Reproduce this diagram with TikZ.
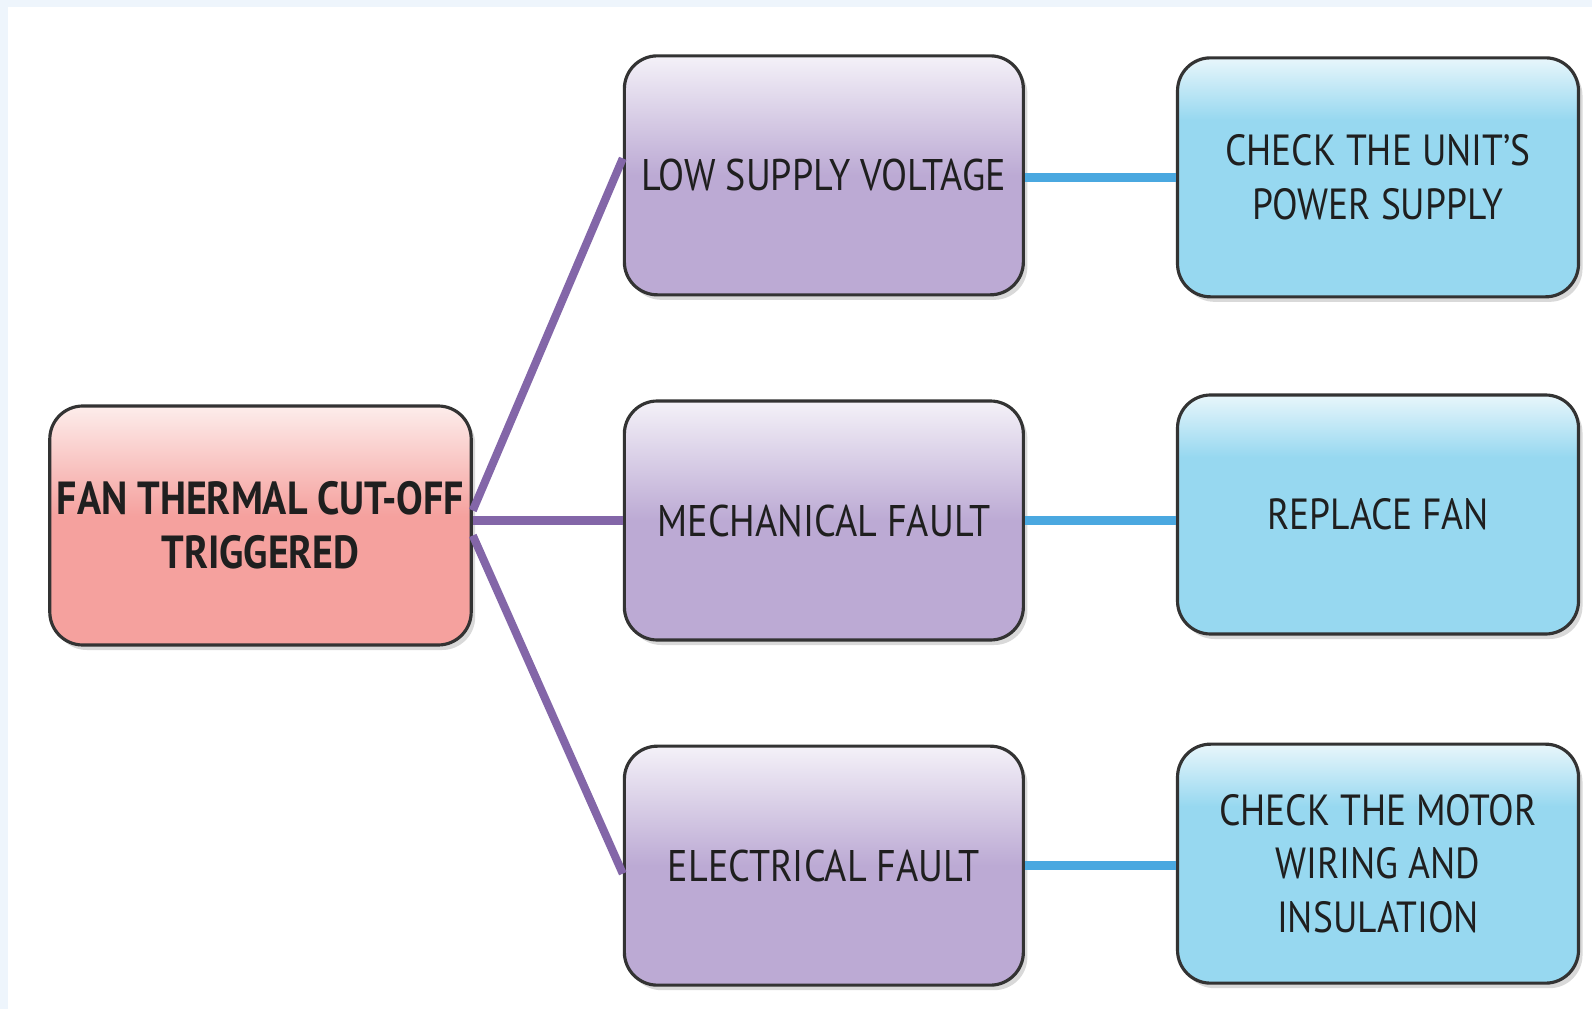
\documentclass[tikz,border=0pt]{standalone}
\usepackage{fontspec}
\setsansfont{PT Sans}[FakeStretch=0.86]
\usepackage{tikz}
\usetikzlibrary{positioning, calc, shadows}

\definecolor{rootlo}{HTML}{F5A19E}
\definecolor{roothi}{HTML}{FDEDEB}
\definecolor{causelo}{HTML}{BCAAD4}
\definecolor{causehi}{HTML}{F4F1F8}
\definecolor{fixlo}{HTML}{97D8F0}
\definecolor{fixhi}{HTML}{E8F6FB}
\definecolor{causeline}{HTML}{8366A8}
\definecolor{fixline}{HTML}{4AA8E0}
\definecolor{bgband}{HTML}{EEF5FC}
\definecolor{boxedge}{HTML}{333333}

\pgfdeclareverticalshading{rootshade}{100bp}{color(0bp)=(rootlo); color(52bp)=(rootlo); color(75bp)=(roothi); color(100bp)=(roothi)}
\pgfdeclareverticalshading{causeshade}{100bp}{color(0bp)=(causelo); color(50bp)=(causelo); color(75bp)=(causehi); color(100bp)=(causehi)}
\pgfdeclareverticalshading{fixshade}{100bp}{color(0bp)=(fixlo); color(62bp)=(fixlo); color(75bp)=(fixhi); color(100bp)=(fixhi)}

\tikzset{
  fc box/.style={
    rectangle, rounded corners=0.33cm, draw=boxedge, line width=0.9pt,
    minimum width=3.99cm, minimum height=2.39cm,
    text centered, align=center, font=\sffamily\fontsize{12.6}{15.3}\selectfont,
    text=black!88, inner sep=2pt,
    drop shadow={shadow xshift=0.04cm, shadow yshift=-0.05cm, opacity=0.3}
  },
  fc root/.style={
    fc box, shading=rootshade, minimum width=4.21cm,
    font=\sffamily\bfseries\fontsize{13.2}{15.3}\selectfont
  },
  fc cause/.style={
    fc box, shading=causeshade
  },
  fc fix/.style={
    fc box, shading=fixshade, minimum width=4.01cm,
    font=\sffamily\fontsize{12.4}{15.3}\selectfont
  },
  fc cause line/.style={
    draw=causeline, line width=2.3pt
  },
  fc fix line/.style={
    draw=fixline, line width=2.6pt
  }
}

\begin{document}
\begin{tikzpicture}[node distance=1.03cm and 1.50cm]
  \useasboundingbox (0,0) rectangle (15.92,10.09);
  \fill[bgband] (0,10.02) rectangle (15.92,10.09);
  \fill[bgband] (0,0) rectangle (0.08,10.09);

  \node (root) [fc root] at (2.605,4.835) {FAN THERMAL CUT-OFF\\TRIGGERED};

  \node (c2) [fc cause, right=of root, yshift=0.05cm] {MECHANICAL FAULT};
  \node (c1) [fc cause, above=of c2] {LOW SUPPLY VOLTAGE};
  \node (c3) [fc cause, below=of c2] {ELECTRICAL FAULT};

  \node (r1) [fc fix, right=1.51cm of c1, yshift=-0.02cm] {CHECK THE UNIT'S\\POWER SUPPLY};
  \node (r2) [fc fix, right=1.51cm of c2, yshift=0.06cm] {REPLACE FAN};
  \node (r3) [fc fix, right=1.51cm of c3, yshift=0.02cm] {CHECK THE MOTOR\\WIRING AND\\INSULATION};

  \draw [fc cause line] ($(root.east)+(0,0.15)$) -- ($(c1.west)+(0,0.17)$);
  \draw [fc cause line] (root.east |- c2.west) -- (c2.west);
  \draw [fc cause line] ($(root.east)+(0,-0.1)$) -- ($(c3.west)+(0,-0.08)$);

  \draw [fc fix line] (c1.east |- r1.west) -- (r1.west);
  \draw [fc fix line] (c2.east) -- (c2.east -| r2.west);
  \draw [fc fix line] (c3.east) -- (c3.east -| r3.west);
\end{tikzpicture}
\end{document}
